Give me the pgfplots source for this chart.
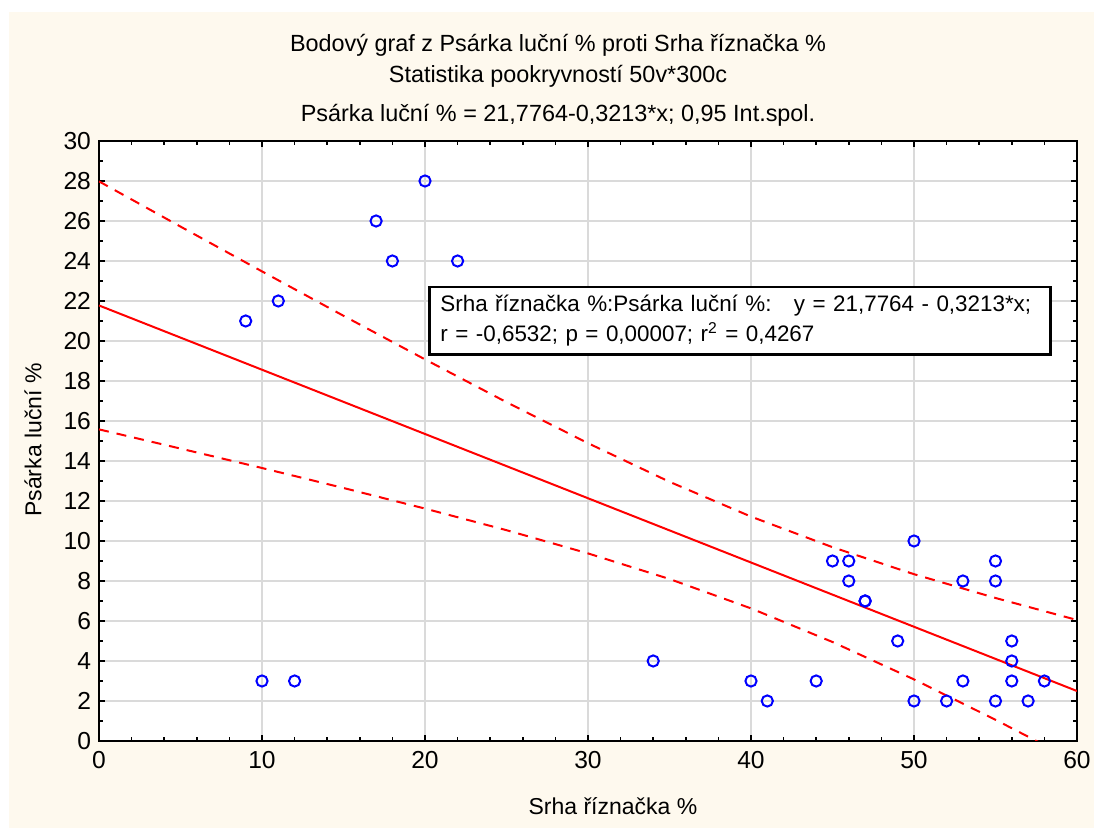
\documentclass[border=0pt]{standalone}
\usepackage{pgfplots}
\pgfplotsset{compat=1.18}
\usepackage{fontspec}
\setmainfont{Liberation Sans}
\definecolor{cream}{RGB}{254,249,238}
\definecolor{gridgray}{RGB}{218,218,218}
\definecolor{ptblue}{RGB}{0,0,255}
\definecolor{lnred}{RGB}{255,0,0}
\begin{document}
\begin{tikzpicture}[font=\fontsize{11}{13.2}\selectfont]
\path[use as bounding box] (-49.5pt,-43.5pt) rectangle (497.5pt,370.5pt);
\fill[cream] (-45pt,-43.5pt) rectangle (497.5pt,364.5pt);
\begin{axis}[
  at={(0pt,0pt)}, anchor=south west,
  scale only axis, width=489pt, height=300pt,
  xmin=0, xmax=60, ymin=0, ymax=30,
  xtick={0,10,...,60}, ytick={0,2,...,30},
  minor x tick num=4, minor y tick num=1,
  tick align=inside,
  major tick length=3pt, minor tick length=2pt,
  every tick/.style={black, line width=0.8pt},
  axis line style={line width=1.1pt},
  axis background/.style={fill=white},
  grid=major,
  major grid style={gridgray, line width=0.6pt},
  /pgf/number format/assume math mode=true,
  ticklabel style={font=\fontsize{12.3}{14}\selectfont},
  yticklabel style={xshift=-0.5pt},
  xticklabel style={yshift=-1.5pt},
]
% upper confidence band
\addplot[lnred, line width=1pt, dash pattern=on 5pt off 4pt] coordinates {
(0,27.98) (5,25.72) (10,23.48) (15,21.26) (20,19.08) (25,16.94) (30,14.89)
(35,12.96) (40,11.22) (45,9.69) (50,8.34) (55,7.15) (60,6.05)};
% lower confidence band
\addplot[lnred, line width=1pt, dash pattern=on 5pt off 4pt] coordinates {
(0,15.58) (5,14.62) (10,13.65) (15,12.65) (20,11.62) (25,10.54) (30,9.38)
(35,8.10) (40,6.63) (45,4.95) (50,3.08) (55,1.06) (60,-1.05)};
% regression line
\addplot[lnred, line width=1pt] coordinates {(0,21.7764) (60,2.4984)};
% data
\addplot[only marks, mark=o, mark size=2.8pt, mark options={ptblue, line width=1pt}] coordinates {
(9,21) (11,22) (10,3) (12,3) (17,26) (18,24) (20,28) (22,24)
(34,4) (40,3) (41,2) (44,3) (45,9) (46,9) (46,8) (47,7) (47,7)
(49,5) (50,10) (50,2) (52,2) (53,8) (53,3) (55,9) (55,8) (55,2)
(56,5) (56,4) (56,3) (57,2) (58,3)};
\node[draw=black, line width=1.2pt, fill=white, anchor=north west, align=left,
  inner xsep=0pt, inner ysep=4pt, text width=310.5pt, font=\fontsize{11.2}{15}\selectfont]
  at (axis cs:20.2,22.75)
  {\hspace*{5.5pt}\mbox{Srha říznačka \%:Psárka luční \%:\ \ \ y = 21,7764 - 0,3213*x;}\\
   \hspace*{5.5pt}\mbox{r = -0,6532; p = 0,00007; r\textsuperscript{2} = 0,4267}};
\end{axis}
\begin{scope}[font=\fontsize{11.7}{14}\selectfont]
\node at (229.5pt,348pt) {Bodový graf z Psárka luční \% proti Srha říznačka \%};
\node at (229.5pt,332.5pt) {Statistika pookryvností 50v*300c};
\node at (229.5pt,313pt) {Psárka luční \% = 21,7764-0,3213*x; 0,95 Int.spol.};
\end{scope}
\node[font=\fontsize{11.5}{13}\selectfont] at (257pt,-32.5pt) {Srha říznačka \%};
\node[rotate=90, font=\fontsize{11.5}{13}\selectfont] at (-33pt,150.5pt) {Psárka luční \%};
\end{tikzpicture}
\end{document}
